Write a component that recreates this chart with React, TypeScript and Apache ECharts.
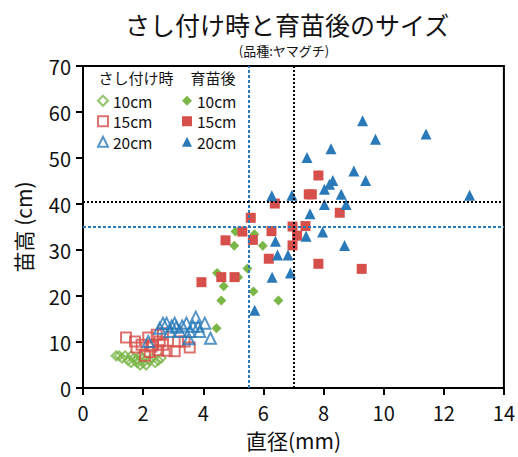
import React, { useEffect, useRef } from "react";
import * as echarts from "echarts";

const titleText = "さし付け時と育苗後のサイズ";
const subtitleText = "(品種:ヤマグチ)";
const xName = "直径(mm)";
const yName = "苗高 (cm)";
const groupHeaders = ["さし付け時", "育苗後"];
const sizeLabels = ["10cm", "15cm", "20cm"];

// さし付け時 (before)
const before10X = [1.1, 1.2, 1.3, 1.4, 1.5, 1.6, 1.7, 1.8, 1.8, 1.9, 2.0, 2.0, 2.1, 2.2, 2.3, 2.4, 2.5, 2.6, 1.6, 1.9];
const before10Y = [7.0, 7.0, 6.5, 7.0, 6.0, 7.0, 6.5, 5.5, 6.2, 7.0, 5.5, 6.5, 5.0, 6.0, 6.5, 5.5, 6.0, 6.5, 5.5, 5.0];
const before15X = [1.43, 1.73, 1.78, 1.95, 2.06, 2.17, 2.22, 2.28, 2.33, 2.45, 2.5, 2.55, 2.66, 2.66, 2.78, 3.05, 3.16, 3.38, 3.55];
const before15Y = [11.0, 10.1, 8.8, 9.4, 7.0, 11.0, 7.8, 9.0, 9.4, 11.6, 8.2, 10.1, 9.4, 11.9, 8.1, 8.0, 10.1, 10.1, 8.8];
const before20X = [2.17, 2.55, 2.66, 2.78, 2.89, 2.95, 3.05, 3.1, 3.22, 3.3, 3.44, 3.52, 3.55, 3.66, 3.75, 3.83, 3.88, 4.05, 4.24];
const before20Y = [10.1, 13.0, 14.1, 14.1, 12.3, 13.5, 14.1, 13.2, 12.3, 13.5, 14.1, 10.7, 12.3, 13.4, 15.4, 13.4, 12.3, 14.1, 10.8];

// 育苗後 (after)
const after10X = [4.44, 4.6, 6.5, 5.67, 4.68, 5.16, 4.46, 5.47, 5.03, 5.98, 5.07, 5.7];
const after10Y = [13.0, 19.0, 19.0, 21.0, 22.1, 24.1, 25.0, 26.0, 30.9, 30.9, 34.0, 33.4];
const after15X = [3.94, 4.6, 5.04, 4.74, 5.3, 5.65, 5.58, 6.18, 6.27, 6.38, 6.97, 7.4, 7.12, 6.97, 7.83, 9.27, 8.54, 7.51, 7.61, 7.83];
const after15Y = [23.0, 24.1, 24.1, 32.1, 34.0, 32.2, 37.0, 28.1, 34.1, 40.1, 35.1, 35.2, 33.1, 31.0, 27.0, 25.9, 38.1, 42.1, 42.1, 46.2];
const after20X = [5.71, 6.29, 6.9, 6.47, 6.82, 6.4, 6.28, 6.95, 7.42, 7.97, 7.55, 8.03, 8.75, 8.7, 8.59, 8.03, 8.2, 8.31, 9.4, 9.01, 7.45, 8.25, 9.73, 9.3, 11.41, 12.86];
const after20Y = [16.9, 24.1, 25.0, 28.9, 28.9, 31.9, 41.8, 41.9, 33.0, 33.9, 37.9, 39.9, 39.9, 31.0, 42.1, 43.2, 44.3, 45.1, 45.1, 47.2, 50.1, 52.0, 54.1, 58.1, 55.2, 41.9];

// reference lines
const blueRefX = 5.5;
const blueRefY = 35;
const blackRefX = 7;
const blackRefY = 40.4;

const GREEN = "#7AB648";
const RED = "#D64F4A";
const BLUE = "#2A7AB9";
const FONT = "Noto Sans CJK JP";

const zip = (xs: number[], ys: number[]) => xs.map((x, i) => [x, ys[i]]);

export default function App() {
  const ref = useRef<HTMLDivElement>(null);
  useEffect(() => {
    if (!ref.current) return;
    const chart = echarts.init(ref.current, null, { renderer: "svg" });
    const colors = [GREEN, RED, BLUE];
    const symbols = ["diamond", "rect", "triangle"];
    const sizes = [10, 10, 11];
    const beforeData = [zip(before10X, before10Y), zip(before15X, before15Y), zip(before20X, before20Y)];
    const afterData = [zip(after10X, after10Y), zip(after15X, after15Y), zip(after20X, after20Y)];
    const beforeNames = sizeLabels.map((s) => groupHeaders[0] + " " + s);
    const afterNames = sizeLabels.map((s) => groupHeaders[1] + " " + s);
    const series: any[] = [];
    beforeData.forEach((d, i) => {
      series.push({
        type: "scatter",
        name: beforeNames[i],
        data: d,
        symbol: symbols[i],
        symbolSize: i === 0 ? 9 : sizes[i],
        itemStyle: { color: "rgba(0,0,0,0)", borderColor: colors[i], borderWidth: 2 },
        z: 2,
      });
    });
    afterData.forEach((d, i) => {
      series.push({
        type: "scatter",
        name: afterNames[i],
        data: d,
        symbol: symbols[i],
        symbolSize: sizes[i],
        itemStyle: { color: colors[i], opacity: 1 },
        z: 3,
      });
    });
    const dotted = (c: string, dash: number[]) => ({ color: c, width: 2, type: dash, opacity: 1 });
    series.push({
      type: "scatter",
      name: "ref",
      data: [],
      z: 1,
      markLine: {
        silent: true,
        symbol: ["none", "none"],
        label: { show: false },
        animation: false,
        data: [
          { xAxis: blueRefX, lineStyle: dotted(BLUE, [3, 2]) },
          { yAxis: blueRefY, lineStyle: dotted(BLUE, [3, 2]) },
          { xAxis: blackRefX, lineStyle: dotted("#000", [2, 2]) },
          { yAxis: blackRefY, lineStyle: dotted("#000", [2, 2]) },
        ],
      },
    });
    const legendCommon = {
      orient: "vertical",
      padding: 0,
      itemWidth: 10,
      itemHeight: 10,
      itemGap: 5,
      textStyle: { fontFamily: FONT, fontSize: 15.5, color: "#111", lineHeight: 15 },
      formatter: (n: string) => n.split(" ")[1],
      selectedMode: false,
    };
    chart.setOption({
      animation: false,
      textStyle: { fontFamily: FONT },
      grid: { left: 83, right: 13, top: 66, bottom: 69, show: true, borderColor: "#000", borderWidth: 2 },
      legend: [
        { ...legendCommon, left: 97, top: 93, data: beforeNames },
        { ...legendCommon, left: 182, top: 93, data: afterNames },
      ],
      graphic: [
        { type: "text", x: 287, y: 24, style: { text: titleText, font: `25px "${FONT}"`, fill: "#111", textAlign: "center", textVerticalAlign: "middle" } },
        { type: "text", x: 284, y: 50, style: { text: subtitleText, font: `13px "${FONT}"`, fill: "#111", textAlign: "center", textVerticalAlign: "middle" } },
        { type: "text", x: 136, y: 77, style: { text: groupHeaders[0], font: `15px "${FONT}"`, fill: "#111", textAlign: "center", textVerticalAlign: "middle" } },
        { type: "text", x: 213, y: 77, style: { text: groupHeaders[1], font: `15px "${FONT}"`, fill: "#111", textAlign: "center", textVerticalAlign: "middle" } },
      ],
      xAxis: {
        type: "value",
        min: 0,
        max: 14,
        interval: 2,
        name: xName,
        nameLocation: "middle",
        nameGap: 41,
        nameTextStyle: { fontFamily: FONT, fontSize: 21, color: "#111" },
        axisLine: { show: true, onZero: false, lineStyle: { color: "#000", width: 2 } },
        axisTick: { show: true, inside: false, length: 7, lineStyle: { color: "#000", width: 2 } },
        axisLabel: { fontFamily: FONT, fontSize: 20, color: "#111", margin: 14 },
        splitLine: { show: false },
      },
      yAxis: {
        type: "value",
        min: 0,
        max: 70,
        interval: 10,
        name: yName,
        nameLocation: "middle",
        nameGap: 50,
        nameTextStyle: { fontFamily: FONT, fontSize: 21, color: "#111" },
        axisLine: { show: true, onZero: false, lineStyle: { color: "#000", width: 2 } },
        axisTick: { show: true, inside: false, length: 7, lineStyle: { color: "#000", width: 2 } },
        axisLabel: { fontFamily: FONT, fontSize: 20, color: "#111", margin: 12 },
        splitLine: { show: false },
      },
      series,
    });
    return () => chart.dispose();
  }, []);
  return <div ref={ref} style={{ width: 518, height: 457, position: "absolute", left: 0, top: 0 }} />;
}
